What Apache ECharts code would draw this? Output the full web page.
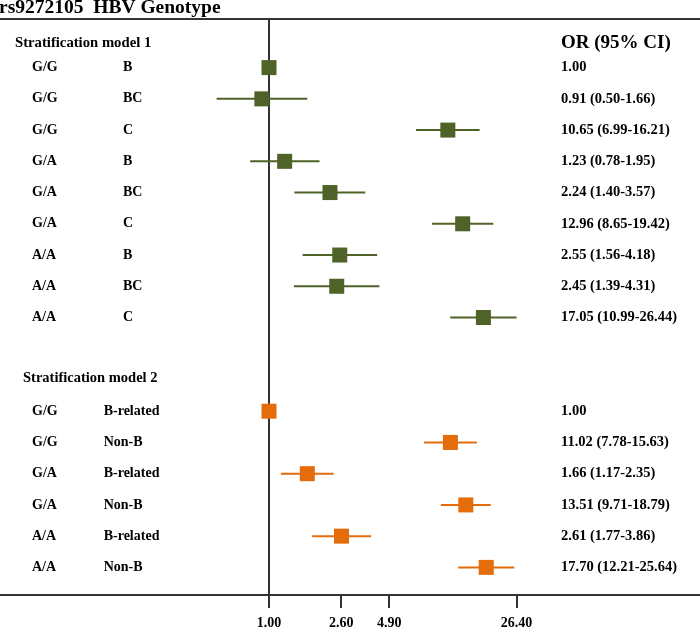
<!DOCTYPE html>
<html>
<head>
<meta charset="utf-8">
<script src="https://cdn.jsdelivr.net/npm/echarts@6/dist/echarts.min.js"></script>
<style>
html,body{margin:0;padding:0;background:#fff;}
#chart{width:700px;height:631px;}
</style>
</head>
<body>
<div id="chart"></div>
<script>
// ---- data ----
const genotypes1 = ['G/G','G/G','G/G','G/A','G/A','G/A','A/A','A/A','A/A'];
const subtypes1  = ['B','BC','C','B','BC','C','B','BC','C'];
const or1 = [1.00, 0.91, 10.65, 1.23, 2.24, 12.96, 2.55, 2.45, 17.05];
const lo1 = [null, 0.50, 6.99, 0.78, 1.40, 8.65, 1.56, 1.39, 10.99];
const hi1 = [null, 1.66, 16.21, 1.95, 3.57, 19.42, 4.18, 4.31, 26.44];

const genotypes2 = ['G/G','G/G','G/A','G/A','A/A','A/A'];
const subtypes2  = ['B-related','Non-B','B-related','Non-B','B-related','Non-B'];
const or2 = [1.00, 11.02, 1.66, 13.51, 2.61, 17.70];
const lo2 = [null, 7.78, 1.17, 9.71, 1.77, 12.21];
const hi2 = [null, 15.63, 2.35, 18.79, 3.86, 25.64];

const xTickValues = [1.00, 2.60, 4.90, 26.40];

const titleText = 'rs9272105  HBV Genotype';
const heading1 = 'Stratification model 1';
const heading2 = 'Stratification model 2';
const columnHeader = 'OR (95% CI)';

// ---- build ----
const GREEN = '#4F6228';
const ORANGE = '#E46C0A';
const FONT = '"Liberation Serif", "Times New Roman", serif';
const n1 = or1.length, GAP = 2;
const off2 = n1 + GAP;
const categories = [];
for (let i = 0; i < n1; i++) categories.push('m1_' + i);
for (let i = 0; i < GAP; i++) categories.push('gap_' + i);
for (let i = 0; i < or2.length; i++) categories.push('m2_' + i);

function orText(o, l, h) {
  return l == null ? o.toFixed(2) : o.toFixed(2) + ' (' + l.toFixed(2) + '-' + h.toFixed(2) + ')';
}

const pts1 = or1.map((v, i) => [v, i]);
const pts2 = or2.map((v, i) => [v, i + off2]);
const ci1 = [], ci2 = [];
lo1.forEach((l, i) => { if (l != null) ci1.push([l, hi1[i], i]); });
lo2.forEach((l, i) => { if (l != null) ci2.push([l, hi2[i], i + off2]); });

function ciRender(color) {
  return function (params, api) {
    const p1 = api.coord([api.value(0), api.value(2)]);
    const p2 = api.coord([api.value(1), api.value(2)]);
    return { type: 'line', shape: { x1: p1[0], y1: p1[1], x2: p2[0], y2: p2[1] },
             style: { stroke: color, lineWidth: 2 } };
  };
}

const txt = { fontFamily: FONT, fontWeight: 'bold', fontSize: 14, color: '#000' };

const chart = echarts.init(document.getElementById('chart'), null, { renderer: 'canvas' });
chart.setOption({
  animation: false,
  backgroundColor: '#fff',
  grid: { left: 0, right: 0, top: 52, height: 531, containLabel: false },
  xAxis: {
    type: 'log',
    logBase: 10,
    min: 0.02849,
    max: 299.2,
    position: 'bottom',
    offset: 12,
    splitLine: { show: false },
    axisLine: { show: true, lineStyle: { color: '#333', width: 2 } },
    axisTick: { show: true, customValues: xTickValues, length: 13, lineStyle: { color: '#333', width: 2 } },
    axisLabel: {
      show: true, customValues: xTickValues, margin: 21,
      formatter: v => Number(v).toFixed(2),
      fontFamily: FONT, fontWeight: 'bold', fontSize: 14, color: '#000'
    }
  },
  yAxis: {
    type: 'category',
    inverse: true,
    data: categories,
    axisLine: { show: false },
    axisTick: { show: false },
    splitLine: { show: false },
    axisLabel: {
      inside: true, margin: 32, interval: 0,
      fontFamily: FONT, fontWeight: 'bold', fontSize: 14, color: '#000',
      formatter: function (val, idx) {
        if (idx < n1) {
          return '{g1|' + genotypes1[idx] + '}{s1|' + subtypes1[idx] + '}{v|' + orText(or1[idx], lo1[idx], hi1[idx]) + '}';
        }
        const j = idx - off2;
        if (j >= 0 && j < or2.length) {
          return '{g2|' + genotypes2[j] + '}{s2|' + subtypes2[j] + '}{v|' + orText(or2[j], lo2[j], hi2[j]) + '}';
        }
        return '';
      },
      rich: {
        g1: Object.assign({}, txt, { width: 91 }),
        s1: Object.assign({}, txt, { width: 438 }),
        g2: Object.assign({}, txt, { width: 71.7 }),
        s2: Object.assign({}, txt, { width: 457.3 }),
        v: Object.assign({}, txt, { fontSize: 14.5 })
      }
    }
  },
  series: [
    { type: 'custom', name: 'ci1', renderItem: ciRender(GREEN), data: ci1,
      encode: { x: [0, 1], y: 2 }, z: 2, silent: true },
    { type: 'custom', name: 'ci2', renderItem: ciRender(ORANGE), data: ci2,
      encode: { x: [0, 1], y: 2 }, z: 2, silent: true },
    { type: 'scatter', name: 'model1', data: pts1, symbol: 'rect', symbolSize: 15,
      itemStyle: { color: GREEN, opacity: 1 }, z: 3 },
    { type: 'scatter', name: 'model2', data: pts2, symbol: 'rect', symbolSize: 15,
      itemStyle: { color: ORANGE, opacity: 1 }, z: 3 }
  ],
  graphic: [
    { id: 'title', type: 'text', x: -1, y: 8, z: 10,
      style: { text: titleText, font: 'bold 19.5px ' + FONT, fill: '#000', align: 'left', verticalAlign: 'middle' } },
    { id: 'topline', type: 'line', z: 10, shape: { x1: 0, y1: 19, x2: 700, y2: 19 },
      style: { stroke: '#333', lineWidth: 2 } },
    { id: 'h1', type: 'text', x: 15, y: 43, z: 10,
      style: { text: heading1, font: 'bold 14.7px ' + FONT, fill: '#000', align: 'left', verticalAlign: 'middle' } },
    { id: 'h2', type: 'text', x: 23, y: 378, z: 10,
      style: { text: heading2, font: 'bold 14.5px ' + FONT, fill: '#000', align: 'left', verticalAlign: 'middle' } },
    { id: 'orh', type: 'text', x: 561, y: 43, z: 10,
      style: { text: columnHeader, font: 'bold 19px ' + FONT, fill: '#000', align: 'left', verticalAlign: 'middle' } }
  ]
});

// reference line at OR = 1, positioned through the x scale
const refX = chart.convertToPixel({ xAxisIndex: 0 }, 1);
chart.setOption({
  graphic: [
    { id: 'refline', type: 'line', z: 1, shape: { x1: refX, y1: 19, x2: refX, y2: 608 },
      style: { stroke: '#333', lineWidth: 2 } }
  ]
});
</script>
</body>
</html>
